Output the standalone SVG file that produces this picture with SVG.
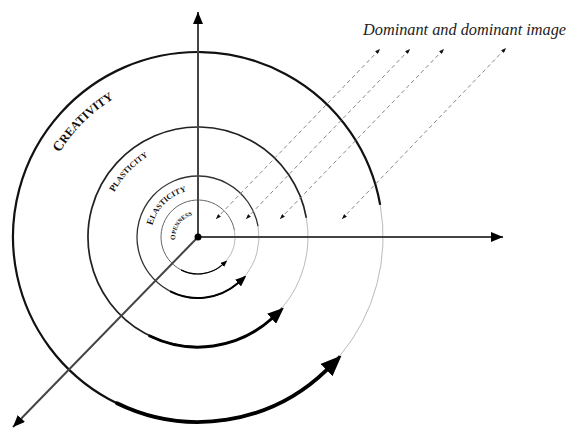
<svg xmlns="http://www.w3.org/2000/svg" width="568" height="428" viewBox="0 0 568 428">
<style>
.lbl{font-family:"Liberation Serif","Times New Roman",serif;font-weight:bold;fill:#111}
.axis{stroke:#444;stroke-width:2;fill:none}
.dash{stroke:#888;stroke-width:1;stroke-dasharray:4 3;fill:none}
.arr{stroke:#000;fill:none;stroke-linecap:round}
.light{stroke:#bbb;stroke-width:1;fill:none}
</style>
<defs>
<marker id="ax" markerUnits="userSpaceOnUse" viewBox="0 0 10 10" refX="10" refY="5" markerWidth="12" markerHeight="10" orient="auto" preserveAspectRatio="none"><path d="M0,0 L10,5 L0,10 z" fill="#000"/></marker>
<marker id="sm" markerUnits="userSpaceOnUse" viewBox="0 0 10 10" refX="10" refY="5" markerWidth="5" markerHeight="4" orient="auto-start-reverse" preserveAspectRatio="none"><path d="M0,0 L10,5 L0,10 z" fill="#111"/></marker>
<marker id="cv" markerUnits="strokeWidth" viewBox="0 0 10 10" refX="0" refY="5" markerWidth="5.5" markerHeight="4.5" orient="auto" preserveAspectRatio="none"><path d="M0,0 L10,5 L0,10 z" fill="#000"/></marker>
<path id="tp1" d="M36 237 A162 162 0 0 1 198 75"/>
<path id="tp2" d="M103 237 A95 95 0 0 1 198 142"/>
<path id="tp3" d="M151 237 A47 47 0 0 1 198 190"/>
<path id="tp4" d="M181.74 253.26 A23 23 0 0 1 214.26 220.74"/>
</defs>

<g id="circles">
<g id="c-openness">
<path d="M226.34 260.79 A37 37 0 1 1 234.44 230.57" stroke="#666" stroke-width="1" fill="none"/>
<path class="light" d="M234.44 230.57 A37 37 0 0 1 226.34 260.79"/>
</g>
<g id="c-elasticity">
<path d="M244.73 276.21 A61 61 0 1 1 258.07 226.41" stroke="#333" stroke-width="1.3" fill="none"/>
<path class="light" d="M258.07 226.41 A61 61 0 0 1 244.73 276.21"/>
</g>
<g id="c-plasticity">
<path d="M282.26 307.71 A110 110 0 1 1 306.33 217.90" stroke="#222" stroke-width="1.7" fill="none"/>
<path class="light" d="M306.33 217.90 A110 110 0 0 1 282.26 307.71"/>
</g>
<g id="c-creativity">
<path d="M339.72 355.91 A185 185 0 1 1 380.19 204.88" stroke="#111" stroke-width="2.2" fill="none"/>
<path class="light" d="M380.19 204.88 A185 185 0 0 1 339.72 355.91"/>
</g>
</g>

<g id="connectors">
<line class="axis" x1="198" y1="237" x2="198" y2="12" marker-end="url(#ax)"/>
<line class="axis" x1="198" y1="237" x2="503" y2="237" marker-end="url(#ax)"/>
<line class="axis" x1="198" y1="237" x2="13" y2="427" marker-end="url(#ax)"/>
<line class="dash" x1="216" y1="219" x2="380" y2="49" marker-start="url(#sm)" marker-end="url(#sm)"/>
<line class="dash" x1="246" y1="219" x2="410" y2="49" marker-start="url(#sm)" marker-end="url(#sm)"/>
<line class="dash" x1="280" y1="219" x2="444" y2="49" marker-start="url(#sm)" marker-end="url(#sm)"/>
<line class="dash" x1="342" y1="219" x2="506" y2="48" marker-start="url(#sm)" marker-end="url(#sm)"/>
<path class="arr" stroke-width="1.2" d="M181.5 270.1 A37 37 0 0 0 222.27 264.92" marker-end="url(#cv)"/>
<path class="arr" stroke-width="2" d="M170.8 291.6 A61 61 0 0 0 238.02 283.04" marker-end="url(#cv)"/>
<path class="arr" stroke-width="3" d="M149.8 336.0 A110 110 0 0 0 271.6 318.75" marker-end="url(#cv)"/>
<path class="arr" stroke-width="3.8" d="M117.0 403.3 A185 185 0 0 0 326.51 370.08" marker-end="url(#cv)"/>
</g>

<g id="center"><circle cx="198" cy="237" r="3.5" fill="#000"/></g>

<g id="labels">
<text class="lbl" font-size="12"><textPath href="#tp1" startOffset="50%" text-anchor="middle"><tspan font-size="14">C</tspan>REATIVITY</textPath></text>
<text class="lbl" font-size="8"><textPath href="#tp2" startOffset="48%" text-anchor="middle"><tspan font-size="9.5">P</tspan>LASTICITY</textPath></text>
<text class="lbl" font-size="8"><textPath href="#tp3" startOffset="50%" text-anchor="middle"><tspan font-size="9.5">E</tspan>LASTICITY</textPath></text>
<text class="lbl" font-size="6"><textPath href="#tp4" startOffset="44%" text-anchor="middle"><tspan font-size="7">O</tspan>PENNESS</textPath></text>
</g>

<g id="title">
<text x="363" y="35" font-family="Liberation Serif, Times New Roman, serif" font-style="italic" font-size="16" fill="#222" textLength="203" lengthAdjust="spacingAndGlyphs">Dominant and dominant image</text>
</g>
</svg>
